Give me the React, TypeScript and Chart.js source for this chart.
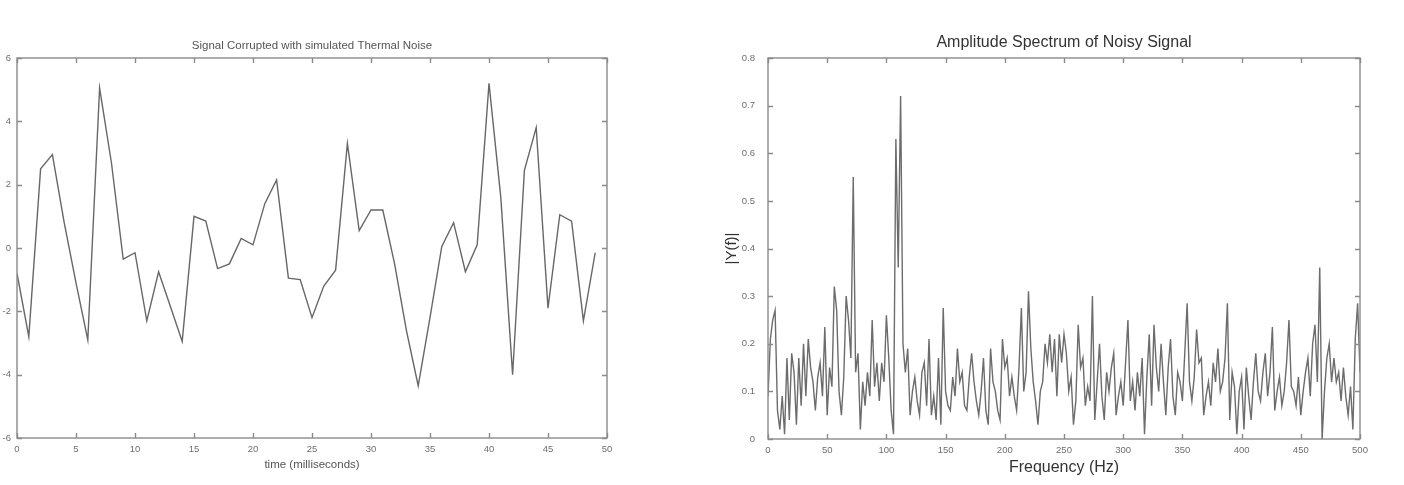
import React, { useEffect, useRef } from "react";
import { Chart, registerables } from "chart.js";

Chart.register(...registerables);

// ---------- Left panel data ----------
const timeMs = [
  0, 1, 2, 3, 4, 5, 6, 7, 8, 9, 10, 11, 12, 13, 14, 15, 16, 17, 18, 19, 20, 21, 22, 23, 24,
  25, 26, 27, 28, 29, 30, 31, 32, 33, 34, 35, 36, 37, 38, 39, 40, 41, 42, 43, 44, 45, 46, 47, 48, 49,
];
const signal = [
  -0.8, -2.8, 2.5, 2.95, 0.8, -1.1, -2.9, 5.05, 2.7, -0.35,
  -0.15, -2.3, -0.75, -1.85, -2.95, 1.0, 0.85, -0.65, -0.5, 0.3,
  0.1, 1.4, 2.15, -0.95, -1.0, -2.2, -1.2, -0.7, 3.3, 0.55,
  1.2, 1.2, -0.5, -2.6, -4.35, -2.2, 0.05, 0.8, -0.75, 0.1,
  5.2, 1.6, -4.0, 2.45, 3.8, -1.9, 1.05, 0.85, -2.3, -0.15,
];
const leftTitle = "Signal Corrupted with simulated Thermal Noise";
const leftXLabel = "time (milliseconds)";

// ---------- Right panel data ----------
const freqHz = [
  0, 2, 4, 6, 8, 10, 12, 14, 16, 18, 20, 22, 24, 26, 28, 30, 32, 34, 36, 38, 40, 42, 44, 46, 48,
  50, 52, 54, 56, 58, 60, 62, 64, 66, 68, 70, 72, 74, 76, 78, 80, 82, 84, 86, 88, 90, 92, 94, 96, 98,
  100, 102, 104, 106, 108, 110, 112, 114, 116, 118, 120, 122, 124, 126, 128, 130, 132, 134, 136, 138, 140, 142, 144, 146, 148,
  150, 152, 154, 156, 158, 160, 162, 164, 166, 168, 170, 172, 174, 176, 178, 180, 182, 184, 186, 188, 190, 192, 194, 196, 198,
  200, 202, 204, 206, 208, 210, 212, 214, 216, 218, 220, 222, 224, 226, 228, 230, 232, 234, 236, 238, 240, 242, 244, 246, 248,
  250, 252, 254, 256, 258, 260, 262, 264, 266, 268, 270, 272, 274, 276, 278, 280, 282, 284, 286, 288, 290, 292, 294, 296, 298,
  300, 302, 304, 306, 308, 310, 312, 314, 316, 318, 320, 322, 324, 326, 328, 330, 332, 334, 336, 338, 340, 342, 344, 346, 348,
  350, 352, 354, 356, 358, 360, 362, 364, 366, 368, 370, 372, 374, 376, 378, 380, 382, 384, 386, 388, 390, 392, 394, 396, 398,
  400, 402, 404, 406, 408, 410, 412, 414, 416, 418, 420, 422, 424, 426, 428, 430, 432, 434, 436, 438, 440, 442, 444, 446, 448,
  450, 452, 454, 456, 458, 460, 462, 464, 466, 468, 470, 472, 474, 476, 478, 480, 482, 484, 486, 488, 490, 492, 494, 496, 498,
  500,
];
const amplitude = [
  0.09, 0.21, 0.25, 0.27, 0.06, 0.02, 0.09, 0.01, 0.17, 0.04, 0.18, 0.14, 0.03, 0.17, 0.07, 0.20, 0.09, 0.21, 0.15, 0.12, 0.06, 0.13, 0.16, 0.09, 0.235,
  0.05, 0.15, 0.11, 0.32, 0.27, 0.10, 0.05, 0.13, 0.30, 0.25, 0.17, 0.55, 0.14, 0.18, 0.02, 0.12, 0.07, 0.14, 0.09, 0.25, 0.11, 0.16, 0.08, 0.16, 0.12,
  0.26, 0.17, 0.06, 0.01, 0.63, 0.36, 0.72, 0.20, 0.14, 0.19, 0.05, 0.10, 0.13, 0.08, 0.05, 0.14, 0.16, 0.07, 0.21, 0.05, 0.09, 0.04, 0.17, 0.03, 0.275,
  0.10, 0.07, 0.06, 0.13, 0.09, 0.19, 0.12, 0.14, 0.07, 0.06, 0.13, 0.18, 0.12, 0.08, 0.05, 0.10, 0.17, 0.06, 0.03, 0.19, 0.12, 0.10, 0.06, 0.04, 0.21,
  0.15, 0.17, 0.09, 0.13, 0.09, 0.06, 0.15, 0.275, 0.10, 0.14, 0.31, 0.19, 0.12, 0.08, 0.03, 0.10, 0.12, 0.20, 0.16, 0.22, 0.14, 0.21, 0.09, 0.22, 0.16,
  0.22, 0.18, 0.10, 0.13, 0.03, 0.08, 0.24, 0.15, 0.17, 0.07, 0.11, 0.08, 0.30, 0.04, 0.12, 0.20, 0.09, 0.04, 0.14, 0.10, 0.15, 0.18, 0.05, 0.09, 0.12,
  0.07, 0.16, 0.25, 0.08, 0.12, 0.06, 0.14, 0.09, 0.17, 0.01, 0.13, 0.22, 0.07, 0.24, 0.15, 0.10, 0.20, 0.12, 0.05, 0.15, 0.21, 0.09, 0.05, 0.14, 0.12,
  0.08, 0.18, 0.285, 0.12, 0.08, 0.13, 0.23, 0.16, 0.17, 0.05, 0.09, 0.12, 0.07, 0.16, 0.12, 0.19, 0.10, 0.12, 0.17, 0.285, 0.04, 0.14, 0.11, 0.01, 0.10,
  0.13, 0.02, 0.15, 0.09, 0.04, 0.12, 0.18, 0.10, 0.08, 0.14, 0.18, 0.09, 0.14, 0.235, 0.06, 0.10, 0.13, 0.07, 0.10, 0.16, 0.25, 0.11, 0.10, 0.07, 0.13,
  0.05, 0.10, 0.14, 0.17, 0.09, 0.20, 0.24, 0.12, 0.36, 0.00, 0.10, 0.17, 0.20, 0.12, 0.17, 0.12, 0.14, 0.08, 0.15, 0.09, 0.05, 0.11, 0.02, 0.21, 0.285,
  0.14,
];
const rightTitle = "Amplitude Spectrum of Noisy Signal";
const rightXLabel = "Frequency (Hz)";
const rightYLabel = "|Y(f)|";

const FONT = "'Liberation Sans', Arial, Helvetica, sans-serif";

const framePlugin = {
  id: "matlabFrame",
  afterDatasetsDraw(chart: any, _args: any, opts: any) {
    const { ctx, chartArea: a, scales } = chart;
    ctx.save();
    ctx.strokeStyle = opts.frameColor;
    ctx.lineWidth = 1.4;
    ctx.strokeRect(a.left, a.top, a.right - a.left, a.bottom - a.top);
    const L = 5;
    ctx.beginPath();
    scales.x.ticks.forEach((_t: any, i: number) => {
      const px = Math.round(scales.x.getPixelForTick(i)) + 0.5;
      ctx.moveTo(px, a.bottom);
      ctx.lineTo(px, a.bottom - L);
      ctx.moveTo(px, a.top);
      ctx.lineTo(px, a.top + L);
    });
    scales.y.ticks.forEach((_t: any, i: number) => {
      const py = Math.round(scales.y.getPixelForTick(i)) + 0.5;
      ctx.moveTo(a.left, py);
      ctx.lineTo(a.left + L, py);
      ctx.moveTo(a.right, py);
      ctx.lineTo(a.right - L, py);
    });
    ctx.stroke();

    const cx = (a.left + a.right) / 2;
    ctx.textAlign = "center";
    ctx.textBaseline = "middle";
    ctx.fillStyle = opts.titleColor;
    ctx.font = `${opts.titleSize}px ${FONT}`;
    ctx.fillText(opts.title, cx, a.top + opts.titleOffset);
    ctx.fillStyle = opts.labelColor;
    ctx.font = `${opts.xlabelSize}px ${FONT}`;
    ctx.fillText(opts.xlabel, cx, a.bottom + opts.xlabelOffset);
    if (opts.ylabel) {
      ctx.save();
      ctx.translate(a.left + opts.ylabelOffset, (a.top + a.bottom) / 2);
      ctx.rotate(-Math.PI / 2);
      ctx.font = `${opts.ylabelSize}px ${FONT}`;
      ctx.fillText(opts.ylabel, 0, 0);
      ctx.restore();
    }
    ctx.restore();
  },
};

function makeConfig(p: any) {
  return {
    type: "line",
    data: {
      datasets: [
        {
          data: p.xs.map((x: number, i: number) => ({ x, y: p.ys[i] })),
          borderColor: p.lineColor,
          borderWidth: p.lineWidth,
          pointRadius: 0,
          tension: 0,
          fill: false,
        },
      ],
    },
    options: {
      responsive: false,
      animation: false,
      events: [],
      layout: { padding: p.padding },
      plugins: {
        legend: { display: false },
        tooltip: { enabled: false },
        title: { display: false },
        matlabFrame: p.frame,
      },
      scales: {
        x: {
          type: "linear",
          min: p.xMin,
          max: p.xMax,
          grid: { display: false, drawTicks: false },
          border: { display: false },
          ticks: {
            stepSize: p.xStep,
            autoSkip: false,
            maxRotation: 0,
            color: "#6e6e6e",
            padding: p.xTickPad,
            font: { size: p.tickSize, family: FONT },
          },
          afterFit: (s: any) => {
            s.height = p.xAxisH;
          },
        },
        y: {
          type: "linear",
          min: p.yMin,
          max: p.yMax,
          grid: { display: false, drawTicks: false },
          border: { display: false },
          ticks: {
            stepSize: p.yStep,
            autoSkip: false,
            color: "#6e6e6e",
            padding: p.yTickPad,
            font: { size: p.tickSize, family: FONT },
          },
          afterFit: (s: any) => {
            s.width = p.yAxisW;
          },
        },
      },
    },
    plugins: [framePlugin],
  };
}

function Panel(props: { left: number; width: number; cfg: any }) {
  const ref = useRef<HTMLCanvasElement | null>(null);
  useEffect(() => {
    if (!ref.current) return;
    const chart = new Chart(ref.current, props.cfg);
    return () => chart.destroy();
  }, []);
  return (
    <canvas
      ref={ref}
      width={props.width}
      height={485}
      style={{ position: "absolute", left: props.left, top: 0, width: props.width, height: 485 }}
    />
  );
}

export default function App() {
  const leftCfg = makeConfig({
    xs: timeMs,
    ys: signal,
    lineColor: "#676767",
    lineWidth: 1.4,
    xMin: 0,
    xMax: 50,
    xStep: 5,
    yMin: -6,
    yMax: 6,
    yStep: 2,
    tickSize: 9.5,
    xTickPad: 6,
    yTickPad: 6,
    xAxisH: 30,
    yAxisW: 17,
    padding: { left: 0, top: 58, right: 93, bottom: 17 },
    frame: {
      frameColor: "#8a8a8a",
      title: leftTitle,
      titleSize: 11.5,
      titleColor: "#555",
      titleOffset: -12,
      xlabel: leftXLabel,
      xlabelSize: 11.5,
      xlabelOffset: 27,
      labelColor: "#555",
    },
  });
  const rightCfg = makeConfig({
    xs: freqHz,
    ys: amplitude,
    lineColor: "#6c6c6c",
    lineWidth: 1.4,
    xMin: 0,
    xMax: 500,
    xStep: 50,
    yMin: 0,
    yMax: 0.8,
    yStep: 0.1,
    tickSize: 9.5,
    xTickPad: 6,
    yTickPad: 13,
    xAxisH: 30,
    yAxisW: 28,
    padding: { left: 40, top: 58, right: 44, bottom: 16 },
    frame: {
      frameColor: "#8a8a8a",
      title: rightTitle,
      titleSize: 16,
      titleColor: "#333",
      titleOffset: -15,
      xlabel: rightXLabel,
      xlabelSize: 16,
      xlabelOffset: 29,
      labelColor: "#333",
      ylabel: rightYLabel,
      ylabelSize: 15,
      ylabelOffset: -36,
    },
  });
  return (
    <div style={{ position: "absolute", left: 0, top: 0, width: 1404, height: 485, background: "#fff" }}>
      <Panel left={0} width={700} cfg={leftCfg} />
      <Panel left={700} width={704} cfg={rightCfg} />
    </div>
  );
}
